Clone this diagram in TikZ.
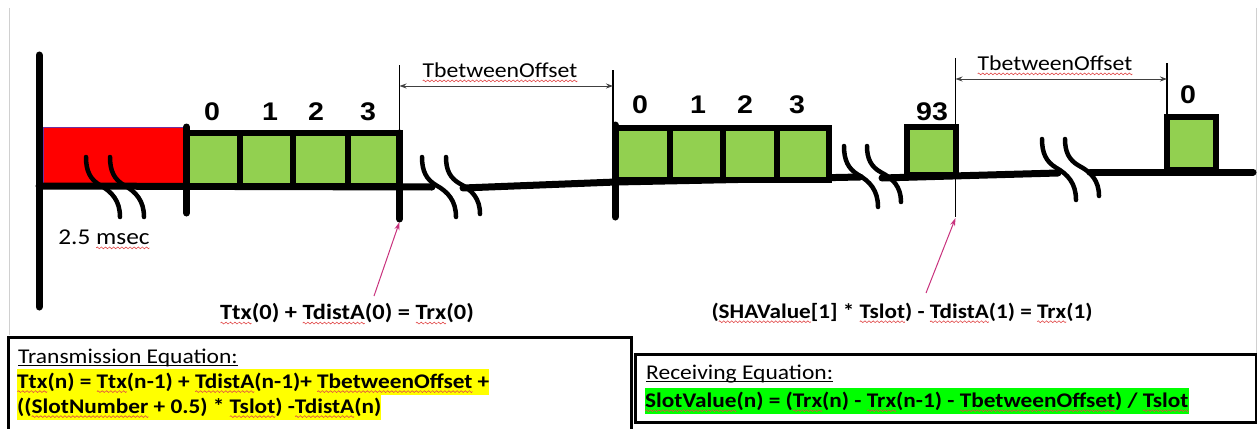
\documentclass[tikz,border=0pt]{standalone}
\usepackage{fontspec}
\setmainfont{Carlito}[FakeStretch=1.12]
\newfontfamily\digitfont{Liberation Sans}[FakeStretch=1.12]
\usetikzlibrary{arrows.meta}

\definecolor{slotgreen}{HTML}{92D050}
\definecolor{headred}{HTML}{FF0000}
\definecolor{headedge}{HTML}{7030A0}
\definecolor{hlyellow}{HTML}{FFFF00}
\definecolor{hlgreen}{HTML}{00FF00}
\definecolor{pointerpink}{HTML}{C8327D}
\definecolor{dimgray}{HTML}{404040}
\definecolor{framegray}{HTML}{D0D0D0}
\definecolor{spellred}{HTML}{E04848}

% one period of the red wavy underline
\newsavebox\wavebox
% red wavy underline of a flagged word
\newcommand\sq[1]{\setbox0=\hbox{#1}%
  \rlap{\raisebox{-3.6pt}[0pt][0pt]{\hbox to\wd0{\xleaders\copy\wavebox\hfill}}}\box0\relax}

% S-shaped break mark on the time axis: top point (#1,#2), height #3
\newcommand\breakmark[3]{%
  \draw[brk, shift={(#1,#2)}] (0,0) .. controls (0,0.23*#3) and (4,0.37*#3) .. (14,0.47*#3)
    .. controls (26,0.58*#3) and (34,0.73*#3) .. (34,#3);}

\begin{document}
\sbox\wavebox{\begin{pgfpicture}%
  \pgfsetlinewidth{0.6pt}%
  \pgfsetstrokecolor{spellred}%
  \pgfpathmoveto{\pgfpoint{0pt}{0pt}}%
  \pgfpathsine{\pgfpoint{1pt}{0.9pt}}%
  \pgfpathcosine{\pgfpoint{1pt}{-0.9pt}}%
  \pgfpathsine{\pgfpoint{1pt}{-0.9pt}}%
  \pgfpathcosine{\pgfpoint{1pt}{0.9pt}}%
  \pgfusepath{stroke}%
  \pgfresetboundingbox
  \pgfpathrectangle{\pgfpointorigin}{\pgfpoint{4pt}{0pt}}%
  \pgfusepath{use as bounding box}%
\end{pgfpicture}}%
\begin{tikzpicture}[x=1pt,y=-1pt,
  bar/.style={line width=7pt, line cap=round},
  guide/.style={line width=1.3pt},
  slot/.style={draw=black, line width=6pt, fill=slotgreen},
  brk/.style={line width=4.5pt, line cap=round},
  dimarrow/.style={{Stealth[length=7pt,width=5pt]}-{Stealth[length=7pt,width=5pt]}, line width=1pt, draw=dimgray},
  pointer/.style={-{Stealth[length=8pt,width=5pt]}, line width=1pt, draw=pointerpink},
  slotnum/.style={font=\digitfont\bfseries\fontsize{25.5}{26}\selectfont, inner sep=0pt},
  note/.style={font=\fontsize{21.2}{25}\selectfont, inner sep=0pt},
  boldnote/.style={font=\bfseries\fontsize{#1}{24}\selectfont, inner sep=0pt},
  eqtitle/.style={font=\fontsize{21}{24}\selectfont, inner sep=0pt, anchor=base west},
  eqline/.style={font=\bfseries\fontsize{20.8}{25}\selectfont, inner sep=0pt, anchor=base west,
    fill=#1, text height=19pt, text depth=7pt},
]
\useasboundingbox (0,0) rectangle (1257,428);

% page frame
\draw[framegray, line width=1pt] (9,8) -- (9,335);
\draw[framegray, line width=1pt] (1256,8) -- (1256,353);

% red header period
\draw[headedge, line width=0.8pt, fill=headred] (43,127) rectangle (184,186);

% time axis
\draw[bar] (39,186) -- (432,187);
\draw[bar] (463,188) -- (616,182) -- (860,177);
\draw[bar] (882,178) -- (1058,173);
\draw[bar] (1090,172) -- (1253,172);

% slot groups
\foreach \xa/\xb in {186.5/240, 240/293, 293/347.5, 347.5/399.5}
  \draw[slot] (\xa,133) rectangle (\xb,186);
\foreach \xa/\xb in {616/670, 670/723, 723/777, 777/829}
  \draw[slot] (\xa,128) rectangle (\xb,180);
\draw[slot] (907,127) rectangle (955.5,175);
\draw[slot] (1167,117) rectangle (1215.5,170);

% ticks and guide lines
\draw[bar] (39,55) -- (39,307);
\draw[bar] (186.5,127) -- (186.5,213);
\draw[guide] (399.5,65) -- (399.5,140);
\draw[bar] (399.5,133) -- (399.5,219);
\draw[guide] (613,70) -- (613,130);
\draw[bar] (615,125) -- (615,217);
\draw[guide] (955.5,58) -- (955.5,217);
\draw[guide] (1167,63) -- (1167,118);

% break marks
\breakmark{86}{157}{60}
\breakmark{110}{157}{60}
\breakmark{422}{157}{60}
\breakmark{446}{157}{57}
\breakmark{844}{146}{61}
\breakmark{867}{146}{56}
\breakmark{1042}{139}{61}
\breakmark{1065}{139}{57}

% slot numbers
\node[slotnum] (n0) at (212,112) {0};
\node[slotnum] (n1) at (270,112) {1};
\node[slotnum] (n2) at (316,112) {2};
\node[slotnum] (n3) at (368,112) {3};
\node[slotnum] (m0) at (640,105) {0};
\node[slotnum] (m1) at (698,105) {1};
\node[slotnum] (m2) at (745,105) {2};
\node[slotnum] (m3) at (797,105) {3};
\node[slotnum] (k93) at (932,112) {93};
\node[slotnum] (k0) at (1188,95) {0};

% offset dimensions
\coordinate (d1a) at (399.5,86);
\coordinate (d1b) at (613,86);
\coordinate (d2a) at (955.5,79);
\coordinate (d2b) at (1167,79);
\draw[dimarrow] (d1a) -- (d1b);
\draw[dimarrow] (d2a) -- (d2b);
\node[note] (off1) at (500,70) {\sq{TbetweenOffset}};
\node[note] (off2) at (1055,63) {\sq{TbetweenOffset}};

% header length
\node[note, font=\fontsize{22.6}{26}\selectfont] (hdr) at (104,237) {2.5 \sq{msec}};

% receive instants
\node[boldnote=21.8] (rx0) at (347,313) {\sq{Ttx}(0) + \sq{TdistA}(0) = \sq{Trx}(0)};
\node[boldnote=20.7] (rx1) at (902,312) {(\sq{SHAValue}[1] * \sq{Tslot}) - \sq{TdistA}(1) = \sq{Trx}(1)};
\coordinate (p1) at (374,296);
\coordinate (t1) at (399.5,222);
\coordinate (p2) at (926,293);
\coordinate (t2) at (955.5,218);
\draw[pointer] (p1) -- (t1);
\draw[pointer] (p2) -- (t2);

% equation boxes
\draw[line width=3pt] (8.5,440) -- (8.5,337) -- (631.5,337) -- (631.5,440);
\draw[line width=3pt] (635,354) rectangle (1256,422);

\node[eqtitle] (ttitle) at (18,363) {Transmission Equation:};
\draw[line width=0.8pt] ([yshift=-2.5pt]ttitle.base west) -- ([yshift=-2.5pt]ttitle.base east);
\node[eqline=hlyellow] (teq1) at (17,388) {\sq{Ttx}(n) = \sq{Ttx}(n-1) + \sq{TdistA}(n-1)+ \sq{TbetweenOffset} +};
\node[eqline=hlyellow] (teq2) at (17,413) {((\sq{SlotNumber} + 0.5) * \sq{Tslot}) -\sq{TdistA}(n)};

\node[eqtitle] (rtitle) at (646,379) {Receiving Equation:};
\draw[line width=0.8pt] ([yshift=-2.5pt]rtitle.base west) -- ([yshift=-2.5pt]rtitle.base east);
\node[eqline=hlgreen] (req1) at (645,407) {\sq{SlotValue}(n) = (\sq{Trx}(n) - \sq{Trx}(n-1) - \sq{TbetweenOffset}) / \sq{Tslot}};
\end{tikzpicture}
\end{document}
